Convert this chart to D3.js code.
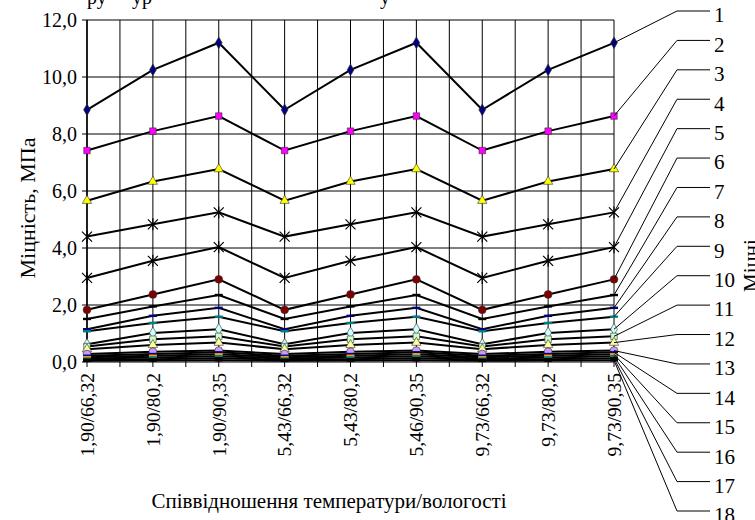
<!DOCTYPE html>
<html>
<head>
<meta charset="utf-8">
<script src="https://cdn.jsdelivr.net/npm/d3@7"></script>
<style>
  body { margin: 0; background: #fff; }
  text { fill: #000; }
</style>
</head>
<body>
<svg id="chart" width="755" height="520" font-family="'Liberation Serif', 'Times New Roman', Times, serif"></svg>
<script>
// categories: temperature / humidity ratio
const categories = ["1,90/66,32", "1,90/80,2", "1,90/90,35", "5,43/66,32", "5,43/80,2",
                    "5,46/90,35", "9,73/66,32", "9,73/80,2", "9,73/90,35"]

const yTicks = [0, 2, 4, 6, 8, 10, 12]

// strength, MPa (18 series)
const s1  = [8.85, 10.25, 11.2, 8.85, 10.25, 11.2, 8.85, 10.25, 11.2]
const s2  = [7.42, 8.1, 8.63, 7.42, 8.1, 8.63, 7.42, 8.1, 8.63]
const s3  = [5.66, 6.33, 6.77, 5.66, 6.33, 6.77, 5.66, 6.33, 6.77]
const s4  = [4.4, 4.83, 5.25, 4.4, 4.83, 5.25, 4.4, 4.83, 5.25]
const s5  = [2.95, 3.55, 4.03, 2.95, 3.55, 4.03, 2.95, 3.55, 4.03]
const s6  = [1.83, 2.37, 2.9, 1.83, 2.37, 2.9, 1.83, 2.37, 2.9]
const s7  = [1.51, 1.95, 2.35, 1.51, 1.95, 2.35, 1.51, 1.95, 2.35]
const s8  = [1.15, 1.62, 1.9, 1.15, 1.62, 1.9, 1.15, 1.62, 1.9]
const s9  = [1.08, 1.37, 1.59, 1.08, 1.37, 1.59, 1.08, 1.37, 1.59]
const s10 = [0.62, 1.02, 1.15, 0.62, 1.02, 1.15, 0.62, 1.02, 1.15]
const s11 = [0.54, 0.8, 0.9, 0.54, 0.8, 0.9, 0.54, 0.8, 0.9]
const s12 = [0.45, 0.6, 0.68, 0.45, 0.6, 0.68, 0.45, 0.6, 0.68]
const s13 = [0.28, 0.36, 0.4, 0.28, 0.36, 0.4, 0.28, 0.36, 0.4]
const s14 = [0.22, 0.28, 0.34, 0.22, 0.28, 0.34, 0.22, 0.28, 0.34]
const s15 = [0.17, 0.22, 0.27, 0.17, 0.22, 0.27, 0.17, 0.22, 0.27]
const s16 = [0.12, 0.16, 0.2, 0.12, 0.16, 0.2, 0.12, 0.16, 0.2]
const s17 = [0.08, 0.1, 0.13, 0.08, 0.1, 0.13, 0.08, 0.1, 0.13]
const s18 = [0.04, 0.05, 0.06, 0.04, 0.05, 0.06, 0.04, 0.05, 0.06]

const series = [s1, s2, s3, s4, s5, s6, s7, s8, s9, s10, s11, s12, s13, s14, s15, s16, s17, s18]
const seriesLabels = d3.range(1, 19).map(String)

// marker look for each series (Excel-like defaults)
const markerStyles = [
  { type: "diamond",  fill: "#000080" },
  { type: "square",   fill: "#ff00ff" },
  { type: "triangle", fill: "#ffff00" },
  { type: "star",     fill: "none" },
  { type: "star",     fill: "none" },
  { type: "circle",   fill: "#800000" },
  { type: "dash",     fill: "#000000" },
  { type: "dash",     fill: "#000080" },
  { type: "dash",     fill: "#008080" },
  { type: "diamond",  fill: "#ccffff" },
  { type: "square",   fill: "#ccffcc" },
  { type: "triangle", fill: "#ffff99" },
  { type: "circle",   fill: "#cc99ff" },
  { type: "dash",     fill: "#000080" },
  { type: "dash",     fill: "#ff9900" },
  { type: "dash",     fill: "#008080" },
  { type: "dash",     fill: "#000000" },
  { type: "dash",     fill: "#000000" },
]

const svg = d3.select("#chart")

const margin = { left: 87, right: 141, top: 20, bottom: 158 }
const width = 755, height = 520

const x = d3.scalePoint()
  .domain(categories)
  .range([margin.left, width - margin.right])

// index scale for the grid lines between categories
const xi = d3.scaleLinear()
  .domain([0, categories.length - 1])
  .range([margin.left, width - margin.right])

const y = d3.scaleLinear()
  .domain([0, 12])
  .range([height - margin.bottom, margin.top])

// the clipped pieces of text from the page above the chart
svg.append("text").attr("x", 87).attr("y", 4).attr("font-size", 20).text("ру")
svg.append("text").attr("x", 132).attr("y", 4).attr("font-size", 20).text("ур")
svg.append("text").attr("x", 380).attr("y", 4).attr("font-size", 20).text("у")

// grid
const grid = svg.append("g").attr("stroke", "#000").attr("stroke-width", 1)

grid.selectAll("line.v")
  .data(d3.range(0, categories.length - 0.5, 0.5))
  .enter().append("line")
    .attr("class", "v")
    .attr("x1", d => xi(d)).attr("x2", d => xi(d))
    .attr("y1", y(12)).attr("y2", y(0) + 5)

grid.selectAll("line.h")
  .data(yTicks)
  .enter().append("line")
    .attr("class", "h")
    .attr("x1", margin.left - 5).attr("x2", width - margin.right)
    .attr("y1", d => y(d)).attr("y2", d => y(d))

// left axis line
svg.append("line")
  .attr("x1", margin.left).attr("x2", margin.left)
  .attr("y1", y(12)).attr("y2", y(0))
  .attr("stroke", "#000").attr("stroke-width", 1.5)

svg.append("g").selectAll("text")
  .data(yTicks)
  .enter().append("text")
    .attr("x", margin.left - 10)
    .attr("y", d => y(d))
    .attr("dy", "0.35em")
    .attr("text-anchor", "end")
    .attr("font-size", 20)
    .text(d => d3.format(".1f")(d).replace(".", ","))

svg.append("g").selectAll("text")
  .data(categories)
  .enter().append("text")
    .attr("transform", d => `translate(${x(d)},${y(0) + 11}) rotate(-90)`)
    .attr("dy", "0.35em")
    .attr("text-anchor", "end")
    .attr("font-size", 19.5)
    .text(d => d)

// series lines
const line = d3.line()
  .x((d, i) => x(categories[i]))
  .y(d => y(d))

svg.append("g").selectAll("path")
  .data(series)
  .enter().append("path")
    .attr("d", line)
    .attr("fill", "none")
    .attr("stroke", "#000")
    .attr("stroke-width", 2)

function drawMarker(g, style, cx, cy) {
  if (style.type === "star") {
    const r = 5
    g.append("path")
      .attr("d", `M${cx - r},${cy - r}L${cx + r},${cy + r}M${cx - r},${cy + r}L${cx + r},${cy - r}M${cx},${cy - r - 1}L${cx},${cy + r + 1}`)
      .attr("stroke", "#000").attr("stroke-width", 1.2).attr("fill", "none")
  } else if (style.type === "dash") {
    g.append("rect")
      .attr("x", cx - 4).attr("y", cy - 1.2)
      .attr("width", 8).attr("height", 2.4)
      .attr("fill", style.fill)
  } else {
    const shapes = { diamond: d3.symbolDiamond, square: d3.symbolSquare, triangle: d3.symbolTriangle, circle: d3.symbolCircle }
    const sizes = { diamond: 40, square: 42, triangle: 38, circle: 48 }
    g.append("path")
      .attr("transform", `translate(${cx},${cy})`)
      .attr("d", d3.symbol().type(shapes[style.type]).size(sizes[style.type])())
      .attr("fill", style.fill)
      .attr("stroke", "#333").attr("stroke-width", 0.6)
  }
}

const markerLayer = svg.append("g")
series.forEach((vals, si) => {
  vals.forEach((v, i) => drawMarker(markerLayer, markerStyles[si], x(categories[i]), y(v)))
})

// labels with leader lines on the right
const labelY = d3.scaleLinear().domain([0, 17]).range([15, 515])
const lastX = x(categories[categories.length - 1])
const leaders = svg.append("g").attr("stroke", "#000").attr("stroke-width", 1).attr("fill", "none")

series.forEach((vals, si) => {
  const ly = labelY(si) - 4
  leaders.append("path")
    .attr("d", `M${lastX},${y(vals[vals.length - 1])}L677,${ly}L710,${ly}`)
})

svg.append("g").selectAll("text")
  .data(seriesLabels)
  .enter().append("text")
    .attr("x", 714)
    .attr("y", (d, i) => labelY(i))
    .attr("dy", "0.35em")
    .attr("font-size", 21)
    .text(d => d)

// axis titles
svg.append("text")
  .attr("transform", "translate(35,208) rotate(-90)")
  .attr("text-anchor", "middle")
  .attr("font-size", 22)
  .text("Міцність, МПа")

svg.append("text")
  .attr("x", 329).attr("y", 508)
  .attr("text-anchor", "middle")
  .attr("font-size", 21)
  .text("Співвідношення температури/вологості")

// title of the neighbouring chart, cut by the page edge
svg.append("text")
  .attr("transform", "translate(758,292) rotate(-90)")
  .attr("font-size", 21)
  .text("Міцні")
</script>
</body>
</html>
